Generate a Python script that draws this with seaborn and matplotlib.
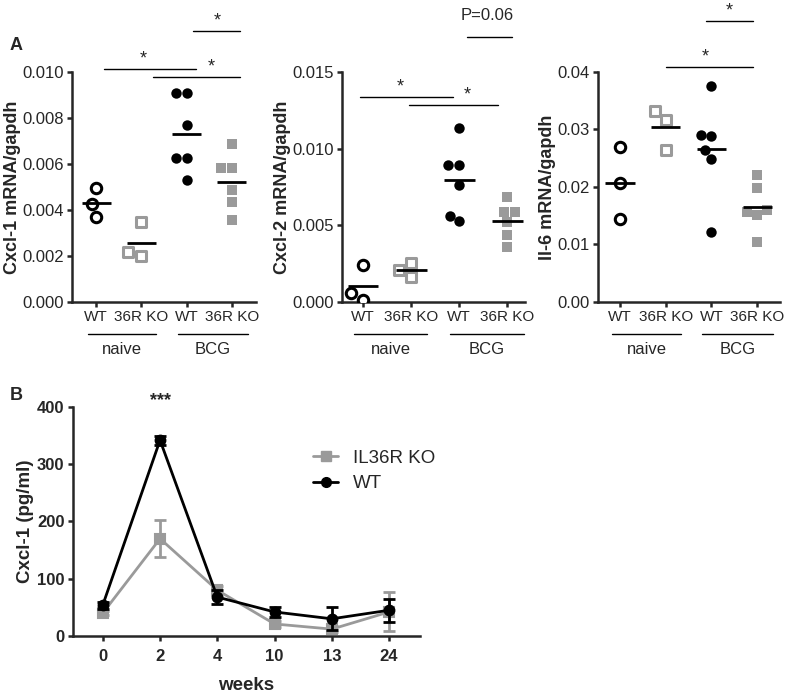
import numpy as np
import matplotlib
matplotlib.use("Agg")
import matplotlib.pyplot as plt
from matplotlib.lines import Line2D
import seaborn as sns

sns.set_style("ticks")
plt.rcParams['font.family'] = ['Liberation Sans', 'DejaVu Sans']

# ---- panel A data ----
groups = ["WT naive", "KO naive", "WT BCG", "KO BCG"]
group_ticks = ["WT", "36R KO", "WT", "36R KO"]

cxcl1_wt_naive = [0.0037, 0.00496, 0.00426]
cxcl1_ko_naive = [0.00348, 0.0020, 0.00217]
cxcl1_wt_bcg = [0.00909, 0.00909, 0.0077, 0.00626, 0.00626, 0.0053]
cxcl1_ko_bcg = [0.00687, 0.00583, 0.00583, 0.00487, 0.00435, 0.00357]

cxcl2_wt_naive = [0.0024, 0.0006, 0.0001]
cxcl2_ko_naive = [0.00253, 0.00208, 0.00162]
cxcl2_wt_bcg = [0.01136, 0.00896, 0.00896, 0.00766, 0.00526, 0.00558]
cxcl2_ko_bcg = [0.00682, 0.00584, 0.00584, 0.00519, 0.00435, 0.00357]

il6_wt_naive = [0.027, 0.0207, 0.0144]
il6_ko_naive = [0.0332, 0.0317, 0.0264]
il6_wt_bcg = [0.0376, 0.0289, 0.0291, 0.0264, 0.0249, 0.0122]
il6_ko_bcg = [0.0221, 0.0198, 0.016, 0.0156, 0.0151, 0.0104]

# significance brackets: (x0, x1, y, text, text_x)
cxcl1_sig = [(0.18, 2.2, 0.01013, "*", 1.04), (1.25, 3.17, 0.00978, "*", 2.54),
             (2.15, 3.17, 0.01178, "*", 2.67)]
cxcl2_sig = [(-0.06, 1.875, 0.01338, "*", 0.77), (0.96, 2.8, 0.01286, "*", 2.17),
             (2.17, 3.1, 0.01727, "P=0.06", 2.58)]
il6_sig = [(1.0, 2.9, 0.0409, "*", 1.86), (1.88, 2.9, 0.0489, "*", 2.4)]

# ---- panel B data ----
weeks = ["0", "2", "4", "10", "13", "24"]
wt_mean = [54, 342, 68, 42, 30, 45]
wt_sem = [6, 8, 12, 9, 20, 20]
ko_mean = [40, 170, 80, 21, 12, 42]
ko_sem = [4, 32, 8, 5, 5, 34]

GRAY = "#9a9a9a"
BLACK = "#000000"

fig = plt.figure(figsize=(8, 6.95), dpi=100)


def style_axes(ax):
    sns.despine(ax=ax)
    for s in ["left", "bottom"]:
        ax.spines[s].set_linewidth(1.8)
    ax.tick_params(width=1.8, length=3.6, pad=2.5, direction="out")


def panel_a(rect, series, ylabel, ymax, ystep, fmt, xlim, sigs):
    ax = fig.add_axes(rect)
    styles = [
        dict(marker="o", color="white", edgecolor=BLACK, linewidth=2.2),
        dict(marker="s", color="white", edgecolor=GRAY, linewidth=2.2),
        dict(marker="o", color=BLACK, edgecolor=BLACK, linewidth=0),
        dict(marker="s", color=GRAY, edgecolor=GRAY, linewidth=0),
    ]
    for g, vals, st in zip(groups, series, styles):
        sns.swarmplot(x=[g] * len(vals), y=vals, order=groups, size=7.5, ax=ax, **st)
    for i, vals in enumerate(series):
        ax.hlines(np.mean(vals), i - 0.32, i + 0.32, color=BLACK, lw=2, zorder=5)
    ax.set_ylim(0, ymax)
    ticks = np.arange(0, ymax + ystep / 2, ystep)
    ax.set_yticks(ticks)
    ax.set_yticklabels([fmt % v for v in ticks], fontsize=12)
    ax.set_xlim(*xlim)
    ax.set_xticks(range(4))
    ax.set_xticklabels(group_ticks, fontsize=11)
    ax.set_ylabel(ylabel, fontsize=13, fontweight="bold", labelpad=1)
    style_axes(ax)
    for x0, x1, y, txt, tx in sigs:
        ax.plot([x0, x1], [y, y], color=BLACK, lw=1, clip_on=False)
        off = 4 if txt == "*" else 12
        ax.annotate(txt, xy=(tx, y), xytext=(0, off), textcoords="offset points",
                    ha="center", va="baseline", fontsize=13 if txt == "*" else 12,
                    annotation_clip=False)
    tr = ax.get_xaxis_transform()
    for (a, b), name, cx in [((-0.18, 1.33), "naive", 0.58), ((1.8, 3.35), "BCG", 2.58)]:
        ax.plot([a, b], [-0.139, -0.139], color=BLACK, lw=1, transform=tr, clip_on=False)
        ax.text(cx, -0.205, name, transform=tr, ha="center", va="center", fontsize=12)
    return ax


panel_a([0.09, 0.5655, 0.23, 0.331],
        [cxcl1_wt_naive, cxcl1_ko_naive, cxcl1_wt_bcg, cxcl1_ko_bcg],
        "Cxcl-1 mRNA/gapdh", 0.010, 0.002, "%.3f", (-0.53, 3.53), cxcl1_sig)
panel_a([0.4275, 0.5655, 0.229, 0.331],
        [cxcl2_wt_naive, cxcl2_ko_naive, cxcl2_wt_bcg, cxcl2_ko_bcg],
        "Cxcl-2 mRNA/gapdh", 0.015, 0.005, "%.3f", (-0.44, 3.375), cxcl2_sig)
panel_a([0.7475, 0.5655, 0.2275, 0.331],
        [il6_wt_naive, il6_ko_naive, il6_wt_bcg, il6_ko_bcg],
        "Il-6 mRNA/gapdh", 0.04, 0.01, "%.2f", (-0.48, 3.5), il6_sig)

# ---- panel B ----
axb = fig.add_axes([0.09125, 0.0849, 0.43375, 0.3295])
pos = np.arange(len(weeks))
axb.errorbar(pos, ko_mean, yerr=ko_sem, fmt="none", ecolor=GRAY, elinewidth=2,
             capsize=4, capthick=2, zorder=2)
sns.pointplot(x=weeks, y=ko_mean, order=weeks, color=GRAY, markers="s",
              linestyles="-", errorbar=None, markersize=7, linewidth=2, ax=axb)
axb.errorbar(pos, wt_mean, yerr=wt_sem, fmt="none", ecolor=BLACK, elinewidth=2,
             capsize=4, capthick=2, zorder=3)
sns.pointplot(x=weeks, y=wt_mean, order=weeks, color=BLACK, markers="o",
              linestyles="-", errorbar=None, markersize=7, linewidth=2, ax=axb)
axb.set_ylim(0, 400)
axb.set_yticks([0, 100, 200, 300, 400])
axb.set_xlim(-0.52, 5.54)
axb.set_xticks(pos)
axb.set_xticklabels(weeks)
for lab in axb.get_xticklabels() + axb.get_yticklabels():
    lab.set_fontweight("bold")
    lab.set_fontsize(12)
axb.set_xlabel("weeks", fontsize=13.5, fontweight="bold", labelpad=9)
axb.set_ylabel("Cxcl-1 (pg/ml)", fontsize=13.5, fontweight="bold", labelpad=2)
style_axes(axb)
axb.tick_params(axis="x", pad=6)
axb.text(1, 403, "***", ha="center", va="baseline", fontsize=13, fontweight="bold")

handles = [Line2D([], [], color=GRAY, marker="s", lw=2, markersize=7),
           Line2D([], [], color=BLACK, marker="o", lw=2, markersize=7)]
fig.legend(handles, ["IL36R KO", "WT"], loc="center left",
           bbox_to_anchor=(0.37, 1 - 471 / 695), frameon=False, fontsize=13.5,
           handlelength=1.35, handletextpad=0.8, labelspacing=0.45)

fig.text(0.012, 1 - 45 / 695, "A", fontsize=13, fontweight="bold", va="center")
fig.text(0.012, 1 - 395 / 695, "B", fontsize=13, fontweight="bold", va="center")

fig.savefig("out.png", dpi=100)
